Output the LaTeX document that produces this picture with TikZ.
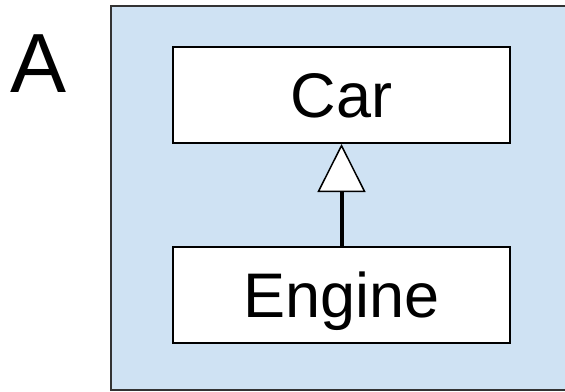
\documentclass[tikz,border=0pt]{standalone}
\usepackage{fontspec}
\setmainfont{Liberation Sans}
\usetikzlibrary{arrows.meta}
\definecolor{panelblue}{HTML}{CFE2F3}
\begin{document}
\begin{tikzpicture}[x=1pt,y=-1pt,
    every node/.style={font=\fontsize{63}{70}\selectfont},
    classbox/.style={draw=black,line width=2pt,fill=white,minimum width=337pt,minimum height=96pt,inner sep=0pt,text height=45pt,text depth=0pt},
    inherits/.style={line width=4pt,-{Triangle[fill=white,length=48pt,width=48pt,line width=1.5pt]}}]
\def\pagewidth{565}
\def\pageheight{391}

\useasboundingbox (0,0) rectangle (\pagewidth,\pageheight);
\clip (0,0) rectangle (\pagewidth,\pageheight);

% Panel
\draw[fill=panelblue,draw=black!80,line width=1.2pt] (111,6) rectangle (\pagewidth+10,390);
\node[anchor=base,font=\fontsize{84}{90}\selectfont] (label) at (38.5,92) {A};

% Classes
\node[classbox] (car) at (341.5,95) {Car};
\node[classbox] (engine) at (341.5,295) {Engine};

% Generalisation
\draw[inherits] (engine.north) -- (car.south);
\end{tikzpicture}
\end{document}
